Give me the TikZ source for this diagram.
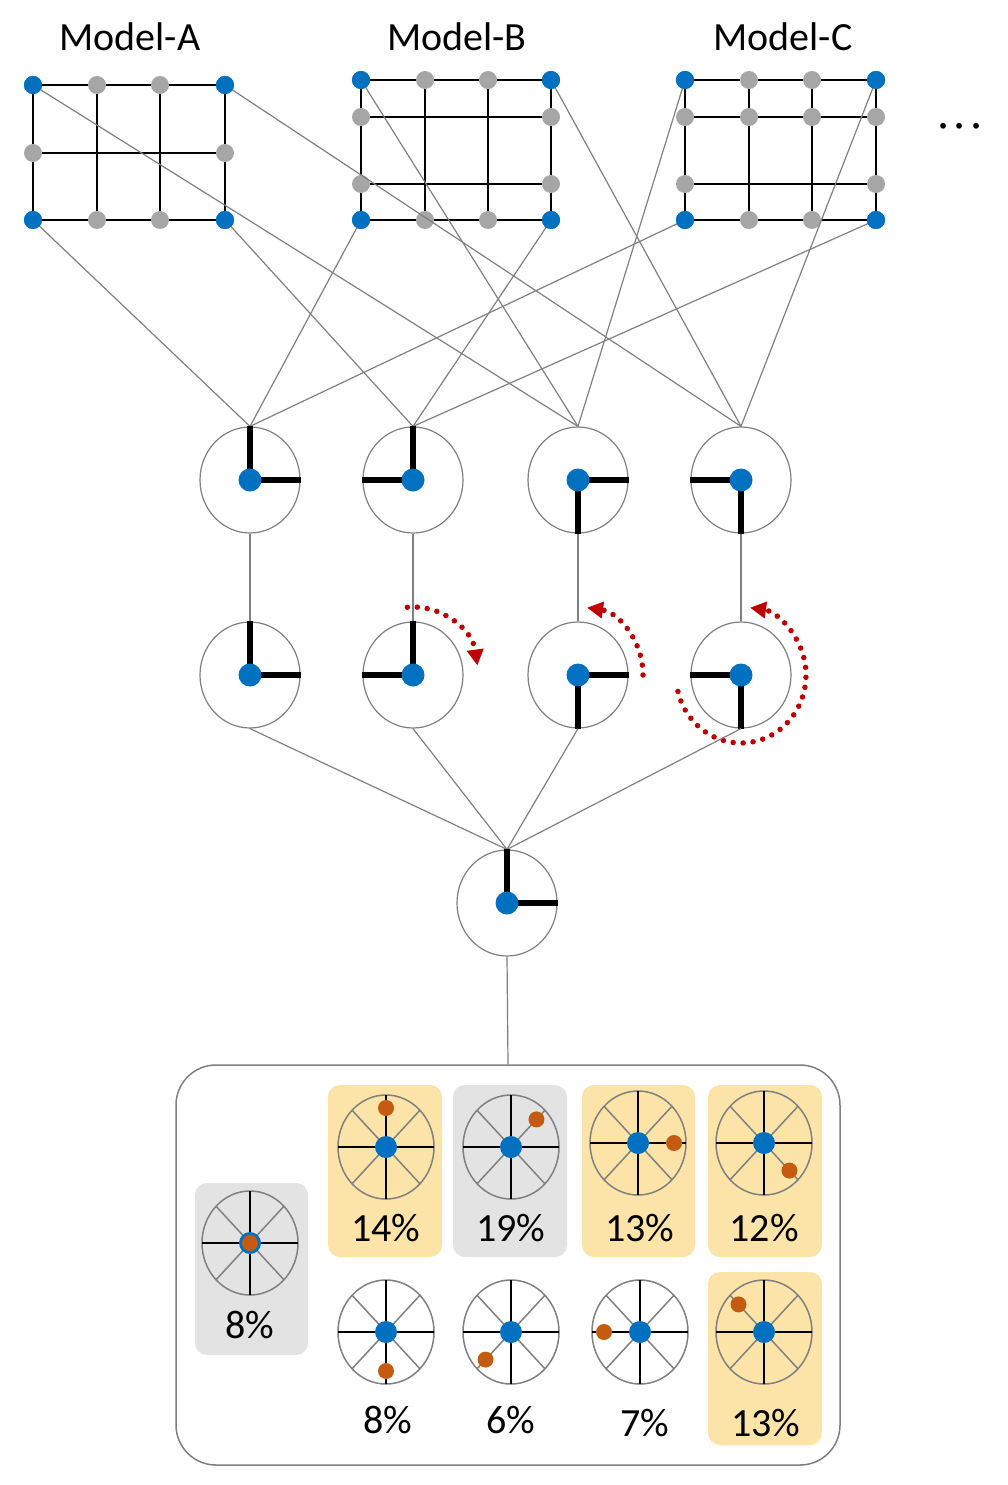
\documentclass[tikz,border=0pt]{standalone}
\usepackage{fontspec}
\setmainfont{Carlito}
\usetikzlibrary{shapes.geometric,arrows.meta,calc}
\definecolor{bl}{HTML}{0070C0}
\definecolor{gr}{HTML}{A6A6A6}
\definecolor{og}{HTML}{C55A11}
\definecolor{yl}{HTML}{FCE3A8}
\definecolor{gb}{HTML}{E3E3E3}
\definecolor{rd}{HTML}{C00000}
\tikzset{
 bd/.style={circle,fill=bl,inner sep=0pt,minimum size=18pt},
 gd/.style={circle,fill=gr,inner sep=0pt,minimum size=18pt},
 con/.style={draw=gray,line width=1.2pt},
 grd/.style={line width=2pt},
 ring/.style={ellipse,draw=gray,line width=1.2pt,minimum width=100pt,minimum height=106pt,inner sep=0pt},
 arm/.style={line width=6pt},
 lab/.style={font=\fontsize{40}{44}\selectfont},
 redarc/.style={rd,line width=5.5pt,line cap=round,dash pattern=on 0pt off 10pt,-{Triangle[length=16pt,width=16pt]}},
 cell/.style={rounded corners=12pt},
}
\newcommand{\wheel}[3]{% name, center
 \begin{scope}[shift={#2}]
  \draw[gray,line width=1.5pt] (0,0) ellipse[x radius=48,y radius=52];
  \foreach \a in {45,135,225,315}{\draw[gray,line width=1.5pt] (0,0)--(\a:48 and 52);}
  \draw[line width=1.8pt] (-48,0)--(48,0) (0,-52)--(0,52);
  \node[bd,minimum size=22pt] (#1) at (0,0) {};
 \end{scope}}
\newcommand{\orgdot}[2]{\fill[og] ($#1+(-#2:36 and 39)$) circle[radius=8];}
\begin{document}
\begin{tikzpicture}[x=1pt,y=-1pt]
\useasboundingbox (0,0) rectangle (1007,1485);
% labels
\node[lab] (la) at (130,37) {Model-A};
\node[lab] (lb) at (457,37) {Model-B};
\node[lab] (lc) at (783,37) {Model-C};
\node[font=\fontsize{40}{44}\selectfont] (dots) at (960,130) {·\,·\,·};
% grid A
\foreach \x in {33,97,160,225}{\draw[grd] (\x,85)--(\x,220);}
\foreach \y in {85,153,220}{\draw[grd] (33,\y)--(225,\y);}
\node[bd] (aTL) at (33,85) {}; \node[bd] (aTR) at (225,85) {};
\node[bd] (aBL) at (33,220) {}; \node[bd] (aBR) at (225,220) {};
\foreach \x/\y [count=\i] in {97/85,160/85,33/153,225/153,97/220,160/220}{\node[gd] (ag\i) at (\x,\y) {};}
% grid B
\foreach \x in {361,425,488,551}{\draw[grd] (\x,80)--(\x,220);}
\foreach \y in {80,117,184,220}{\draw[grd] (361,\y)--(551,\y);}
\node[bd] (bTL) at (361,80) {}; \node[bd] (bTR) at (551,80) {};
\node[bd] (bBL) at (361,220) {}; \node[bd] (bBR) at (551,220) {};
\foreach \x/\y [count=\i] in {425/80,488/80,361/117,551/117,361/184,551/184,425/220,488/220}{\node[gd] (bg\i) at (\x,\y) {};}
% grid C
\foreach \x in {685,749,812,876}{\draw[grd] (\x,80)--(\x,220);}
\foreach \y in {80,117,184,220}{\draw[grd] (685,\y)--(876,\y);}
\node[bd] (cTL) at (685,80) {}; \node[bd] (cTR) at (876,80) {};
\node[bd] (cBL) at (685,220) {}; \node[bd] (cBR) at (876,220) {};
\foreach \x/\y [count=\i] in {749/80,812/80,685/117,749/117,812/117,876/117,685/184,876/184,749/220,812/220}{\node[gd] (cg\i) at (\x,\y) {};}
% middle rings
\foreach \x [count=\i] in {250,413,578,741}{
 \node[ring] (m\i) at (\x,480) {};
 \node[ring] (n\i) at (\x,675) {};
 \draw[con] (m\i.south)--(n\i.north);
}
% connectors
\foreach \s in {aBL,bBL,cBL}{\draw[con] (\s.center)--(m1.north);}
\foreach \s in {aBR,bBR,cBR}{\draw[con] (\s.center)--(m2.north);}
\foreach \s in {aTL,bTL,cTL}{\draw[con] (\s.center)--(m3.north);}
\foreach \s in {aTR,bTR,cTR}{\draw[con] (\s.center)--(m4.north);}
\foreach \s in {aTL,aTR,aBL,aBR,bTL,bTR,bBL,bBR,cTL,cTR,cBL,cBR}{\fill[bl] (\s.center) circle[radius=9];}
% arms
\foreach \r in {m,n}{
 \draw[arm] (\r1.center)--(\r1.north) (\r1.center)--(\r1.east);
 \draw[arm] (\r2.center)--(\r2.north) (\r2.center)--(\r2.west);
 \draw[arm] (\r3.center)--(\r3.south) (\r3.center)--(\r3.east);
 \draw[arm] (\r4.center)--(\r4.south) (\r4.center)--(\r4.west);
 \foreach \i in {1,2,3,4}{\node[bd,minimum size=23pt] at (\r\i.center) {};}
}
% red arcs
\draw[redarc] ($(n2.center)+(-95:65 and 68)$) arc[start angle=-95,end angle=-8,x radius=65,y radius=68];
\draw[redarc] ($(n3.center)+(0:65 and 68)$) arc[start angle=0,end angle=-82,x radius=65,y radius=68];
\draw[redarc] ($(n4.center)+(-194:65 and 68)$) arc[start angle=-194,end angle=-442,x radius=65,y radius=68];
% bottom ring
\node[ring] (f) at (507,903) {};
\foreach \i in {1,2,3,4}{\draw[con] (n\i.south)--(f.north);}
\draw[arm] (f.center)--(f.north) (f.center)--(f.east);
\node[bd,minimum size=23pt] at (f.center) {};
% box
\node[draw=gray,line width=1.5pt,rounded corners=40pt,minimum width=664pt,minimum height=400pt] (box) at (508,1265) {};
\draw[con] (f.south)--(box.north);
% cells
\fill[gb,cell] (195,1183) rectangle (308,1355);
\fill[yl,cell] (328,1085) rectangle (442,1257);
\fill[gb,cell] (453,1085) rectangle (567,1257);
\fill[yl,cell] (582,1085) rectangle (695,1257);
\fill[yl,cell] (708,1085) rectangle (822,1257);
\fill[yl,cell] (708,1272) rectangle (822,1445);
\wheel{w0}{(250,1243)}{}
\fill[og] (250,1243) circle[radius=8];
\wheel{w1}{(386,1147)}{} \orgdot{(386,1147)}{90}
\wheel{w2}{(511,1147)}{} \orgdot{(511,1147)}{45}
\wheel{w3}{(638,1143)}{} \orgdot{(638,1143)}{0}
\wheel{w4}{(764,1143)}{} \orgdot{(764,1143)}{-45}
\wheel{w5}{(386,1332)}{} \orgdot{(386,1332)}{-90}
\wheel{w6}{(511,1332)}{} \orgdot{(511,1332)}{-135}
\wheel{w7}{(640,1332)}{} \orgdot{(640,1332)}{180}
\wheel{w8}{(764,1332)}{} \orgdot{(764,1332)}{135}
\node[lab] (p0) at (250,1325) {8\%};
\node[lab] (p1) at (386,1228) {14\%};
\node[lab] (p2) at (511,1228) {19\%};
\node[lab] (p3) at (640,1228) {13\%};
\node[lab] (p4) at (764,1228) {12\%};
\node[lab] (p5) at (388,1420) {8\%};
\node[lab] (p6) at (511,1420) {6\%};
\node[lab] (p7) at (645,1423) {7\%};
\node[lab] (p8) at (766,1423) {13\%};
\end{tikzpicture}
\end{document}
